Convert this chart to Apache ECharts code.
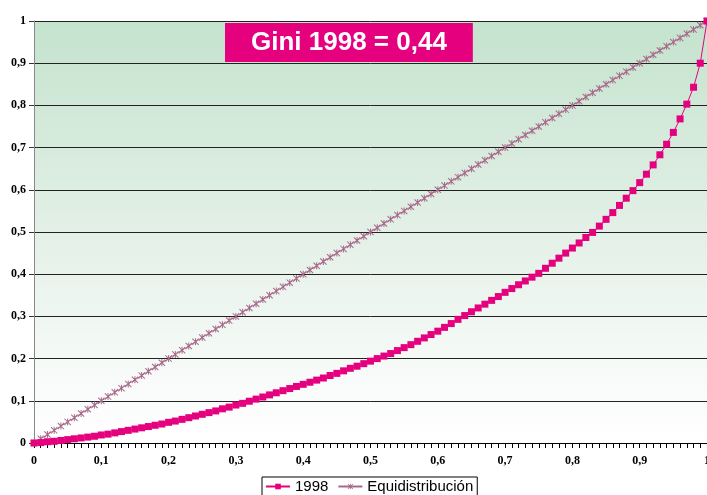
<!DOCTYPE html>
<html>
<head>
<meta charset="utf-8">
<script src="https://cdn.jsdelivr.net/npm/echarts@6/dist/echarts.min.js"></script>
<style>html,body{margin:0;padding:0;background:#fff;}#c{width:707px;height:495px;}</style>
</head>
<body>
<div id="c"></div>
<script>
const titleText = 'Gini 1998 = 0,44';
const seriesNames = ['1998', 'Equidistribución'];
const populationShare = [
  0.00,0.01,0.02,0.03,0.04,0.05,0.06,0.07,0.08,0.09,
  0.10,0.11,0.12,0.13,0.14,0.15,0.16,0.17,0.18,0.19,
  0.20,0.21,0.22,0.23,0.24,0.25,0.26,0.27,0.28,0.29,
  0.30,0.31,0.32,0.33,0.34,0.35,0.36,0.37,0.38,0.39,
  0.40,0.41,0.42,0.43,0.44,0.45,0.46,0.47,0.48,0.49,
  0.50,0.51,0.52,0.53,0.54,0.55,0.56,0.57,0.58,0.59,
  0.60,0.61,0.62,0.63,0.64,0.65,0.66,0.67,0.68,0.69,
  0.70,0.71,0.72,0.73,0.74,0.75,0.76,0.77,0.78,0.79,
  0.80,0.81,0.82,0.83,0.84,0.85,0.86,0.87,0.88,0.89,
  0.90,0.91,0.92,0.93,0.94,0.95,0.96,0.97,0.98,0.99,
  1.00
];
const lorenz1998 = [
  0.000,0.001,0.003,0.004,0.006,0.008,0.010,0.012,0.014,0.016,
  0.019,0.021,0.024,0.027,0.030,0.033,0.036,0.039,0.042,0.045,
  0.049,0.052,0.056,0.060,0.064,0.068,0.072,0.076,0.081,0.085,
  0.090,0.094,0.099,0.104,0.109,0.114,0.119,0.124,0.129,0.134,
  0.139,0.144,0.149,0.154,0.160,0.165,0.171,0.177,0.182,0.188,
  0.194,0.200,0.206,0.212,0.219,0.226,0.233,0.241,0.249,0.257,
  0.265,0.274,0.283,0.293,0.302,0.311,0.320,0.329,0.338,0.347,
  0.357,0.366,0.375,0.384,0.393,0.402,0.414,0.426,0.438,0.450,
  0.462,0.474,0.487,0.499,0.514,0.530,0.546,0.563,0.580,0.598,
  0.617,0.637,0.659,0.683,0.708,0.736,0.768,0.803,0.843,0.900,
  1.000
];
const equidistribution = [
  0.00,0.01,0.02,0.03,0.04,0.05,0.06,0.07,0.08,0.09,
  0.10,0.11,0.12,0.13,0.14,0.15,0.16,0.17,0.18,0.19,
  0.20,0.21,0.22,0.23,0.24,0.25,0.26,0.27,0.28,0.29,
  0.30,0.31,0.32,0.33,0.34,0.35,0.36,0.37,0.38,0.39,
  0.40,0.41,0.42,0.43,0.44,0.45,0.46,0.47,0.48,0.49,
  0.50,0.51,0.52,0.53,0.54,0.55,0.56,0.57,0.58,0.59,
  0.60,0.61,0.62,0.63,0.64,0.65,0.66,0.67,0.68,0.69,
  0.70,0.71,0.72,0.73,0.74,0.75,0.76,0.77,0.78,0.79,
  0.80,0.81,0.82,0.83,0.84,0.85,0.86,0.87,0.88,0.89,
  0.90,0.91,0.92,0.93,0.94,0.95,0.96,0.97,0.98,0.99,
  1.00
];
const fmt = v => String(+Number(v).toFixed(2)).replace('.', ',');

const MAGENTA = '#e5007e';
const MAUVE = '#a8688a';
// filled asterisk (X plus vertical bar) so it renders both on the line and in the legend
const starPath = 'path://M4.3,0L5.7,0L5.7,10L4.3,10Z' +
  'M0,1L1,0L10,9L9,10Z' +
  'M9,0L10,1L1,10L0,9Z';

const chart = echarts.init(document.getElementById('c'), null, {renderer: 'canvas'});
chart.setOption({
  animation: false,
  backgroundColor: '#ffffff',
  title: {
    text: titleText,
    left: 225, top: 23,
    padding: [4, 26, 4, 26],
    backgroundColor: MAGENTA,
    textStyle: {color: '#ffffff', fontFamily: 'Liberation Sans, Arial', fontWeight: 'bold', fontSize: 26, lineHeight: 31}
  },
  legend: {
    left: 262, top: 477,
    padding: [2, 4, 3, 3],
    itemGap: 9,
    itemWidth: 24, itemHeight: 7,
    borderColor: '#000', borderWidth: 1,
    textStyle: {color: '#000', fontFamily: 'Liberation Sans, Arial', fontSize: 15},
    data: seriesNames
  },
  grid: {
    left: 34, right: 0, top: 21, bottom: 52,
    outerBoundsMode: 'none',
    containLabel: false,
    show: true,
    borderWidth: 0,
    backgroundColor: {
      type: 'linear', x: 0, y: 0, x2: 0, y2: 1,
      colorStops: [
        {offset: 0, color: '#c4e3cd'},
        {offset: 0.5, color: '#e3f0e7'},
        {offset: 0.85, color: '#f8fbf9'},
        {offset: 1, color: '#ffffff'}
      ]
    }
  },
  xAxis: {
    type: 'category',
    boundaryGap: false,
    data: populationShare,
    axisLine: {lineStyle: {color: '#000', width: 1}},
    axisTick: {show: true, interval: 0, length: 5, lineStyle: {color: '#000'}},
    axisLabel: {
      interval: 9, margin: 12,
      formatter: fmt,
      color: '#000', fontFamily: 'Liberation Serif, Times New Roman', fontWeight: 'bold', fontSize: 12
    },
    splitLine: {show: false}
  },
  yAxis: {
    type: 'value',
    min: 0, max: 1, interval: 0.1,
    axisLine: {show: true, lineStyle: {color: '#888', width: 1}},
    axisTick: {show: true, length: 5, lineStyle: {color: '#333'}},
    axisLabel: {
      margin: 8, formatter: fmt,
      color: '#000', fontFamily: 'Liberation Serif, Times New Roman', fontWeight: 'bold', fontSize: 12
    },
    splitLine: {show: true, lineStyle: {color: '#222', width: 1}}
  },
  series: [
    {
      name: seriesNames[0],
      type: 'line',
      data: lorenz1998,
      showAllSymbol: true,
      symbol: 'rect',
      symbolSize: 7,
      lineStyle: {color: MAGENTA, width: 1},
      itemStyle: {color: MAGENTA},
      z: 3
    },
    {
      name: seriesNames[1],
      type: 'line',
      data: equidistribution,
      showAllSymbol: true,
      symbol: starPath,
      symbolSize: 7,
      lineStyle: {color: MAUVE, width: 1},
      itemStyle: {color: MAUVE},
      z: 2
    }
  ]
});
</script>
</body>
</html>
